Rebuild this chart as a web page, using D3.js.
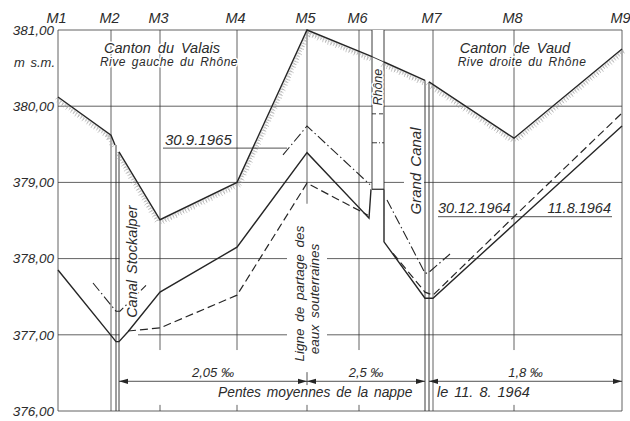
<!DOCTYPE html>
<html>
<head>
<meta charset="utf-8">
<script src="https://cdn.jsdelivr.net/npm/d3@7"></script>
<style>
body { margin: 0; background: #fff; }
svg { display: block; }
text { font-family: "Liberation Sans", Arial, sans-serif; font-style: italic; fill: #2b2b2b; }
.halo { stroke: #fff; stroke-width: 3; paint-order: stroke; stroke-linejoin: round; }
</style>
</head>
<body>
<svg id="chart" width="630" height="421"></svg>
<script>
// stations along the section, chainage in m
const stations = ["M1", "M2", "M3", "M4", "M5", "M6", "M7", "M8", "M9"];
const stationDist = [0, 53, 102, 179, 249, 301, 375, 456, 564];
const levelTicks = [376, 377, 378, 379, 380, 381];

// terrain, null = break (canal / river)
const groundDist  = [0, 53, 57, null, 61, 102, 179, 249, 314, null, 326, 367, null, 371, 456, 564];
const groundLevel = [380.12, 379.62, 379.49, null, 379.40, 378.51, 379.00, 381.00, 380.65, null, 380.58, 380.34, null, 380.32, 379.58, 380.75];

// water table 11.8.1964 (solid)
const aug64Dist  = [0, 55, 58, 61, 70, 102, 179, 249, 311, 313, null, 326, 326, 367, 375, 456, 564];
const aug64Level = [377.85, 376.96, 376.91, 376.91, 377.04, 377.56, 378.15, 379.39, 378.53, 378.91, null, 378.91, 378.22, 377.48, 377.48, 378.45, 379.74];

// water table 30.12.1964 (dashed)
const dec64Dist  = [70, 102, 179, 249, 310, null, 335, 367, 375, 456, 564];
const dec64Level = [377.05, 377.09, 377.52, 378.99, 378.57, null, 378.07, 377.56, 377.52, 378.55, 379.91];

// water table 30.9.1965 (dash-dot)
const sep65Dist  = [35, 58, 62, 88, null, 225, 249, 312, null, 329, 367, 370, 392];
const sep65Level = [377.68, 377.31, 377.31, 377.65, null, 379.36, 379.74, 378.97, null, 378.77, 377.81, 377.81, 378.06];

// canals and river
const stockalperWalls = [58, 61];
const grandCanalWalls = [367, 371];
const rhoneWalls = [314, 326];
const rhoneBed = 378.91;
const rhoneWaterDec64 = 379.90;
const rhoneWaterSep65 = 379.52;

// mean slopes
const slopeFrom = [61, 249, 371];
const slopeTo = [249, 367, 564];
const slopeLabels = ["2,05 ‰", "2,5 ‰", "1,8 ‰"];

const svg = d3.select("#chart");
const x = d3.scaleLinear().domain([0, 564]).range([58, 622]);
const y = d3.scaleLinear().domain([376, 381]).range([411, 30]);
const ink = "#262626";

const pts = (ds, ls) => ds.map((d, i) => [d, ls[i]]);
const line = d3.line().defined(d => d[0] != null).x(d => x(d[0])).y(d => y(d[1]));

// grid
const grid = svg.append("g").attr("stroke", "#3a3a3a").attr("stroke-width", 0.8);
grid.selectAll(".h").data(levelTicks).enter().append("line")
    .attr("x1", x(0)).attr("x2", x(564))
    .attr("y1", d => y(d)).attr("y2", d => y(d));

stationDist.forEach((d, i) => {
    const full = [0, 1, 6, 8].includes(i);
    grid.append("line").attr("x1", x(d)).attr("x2", x(d))
        .attr("y1", y(381)).attr("y2", full ? y(376) : y(376.8));
    if (!full) {
        grid.append("line").attr("x1", x(d)).attr("x2", x(d))
            .attr("y1", y(376.08)).attr("y2", y(376));
    }
});

// blank areas behind vertical labels
const blank = svg.append("g").attr("fill", "#fff");
blank.append("rect").attr("x", x(229)).attr("y", y(378.72))
    .attr("width", x(269) - x(229)).attr("height", y(376.83) - y(378.72));
blank.append("rect").attr("x", x(346)).attr("y", y(379.28))
    .attr("width", x(366) - x(346)).attr("height", y(378.12) - y(379.28));
blank.append("rect").attr("x", x(61.5)).attr("y", y(378.42))
    .attr("width", x(80) - x(61.5)).attr("height", y(376.95) - y(378.42));
blank.append("rect").attr("x", x(rhoneWalls[0])).attr("y", y(381))
    .attr("width", x(rhoneWalls[1]) - x(rhoneWalls[0])).attr("height", y(rhoneBed) - y(381));

// axes labels
const yAxis = d3.axisLeft(y).tickValues(levelTicks).tickSize(0).tickPadding(4)
    .tickFormat(d => d.toFixed(2).replace(".", ","));
const yAxisG = svg.append("g").attr("transform", `translate(${x(0)},0)`).call(yAxis);
yAxisG.select(".domain").remove();
yAxisG.selectAll("text").attr("font-size", 13.5).attr("font-family", null);

const xAxis = d3.axisTop(x).tickValues(stationDist).tickSize(0).tickPadding(7)
    .tickFormat((d, i) => stations[i]);
const xAxisG = svg.append("g").attr("transform", `translate(-2,${y(381)})`).call(xAxis);
xAxisG.select(".domain").remove();
xAxisG.selectAll("text").attr("font-size", 14.5).attr("font-family", null);

// canals
const walls = svg.append("g").attr("stroke", ink).attr("stroke-width", 0.9);
stockalperWalls.forEach((d, i) => {
    walls.append("line").attr("x1", x(d)).attr("x2", x(d))
        .attr("y1", y(i ? 379.40 : 379.49)).attr("y2", y(376));
});
grandCanalWalls.forEach((d, i) => {
    walls.append("line").attr("x1", x(d)).attr("x2", x(d))
        .attr("y1", y(i ? 380.32 : 380.34)).attr("y2", y(376));
});

// Rhône channel
rhoneWalls.forEach(d => {
    walls.append("line").attr("x1", x(d)).attr("x2", x(d))
        .attr("y1", y(381)).attr("y2", y(rhoneBed));
});
walls.append("line").attr("x1", x(rhoneWalls[0])).attr("x2", x(rhoneWalls[1]))
    .attr("y1", y(380.65)).attr("y2", y(380.58));
walls.append("line").attr("x1", x(rhoneWalls[0])).attr("x2", x(rhoneWalls[1]))
    .attr("y1", y(rhoneBed)).attr("y2", y(rhoneBed)).attr("stroke-width", 1.2);
walls.append("line").attr("x1", x(rhoneWalls[0])).attr("x2", x(rhoneWalls[1]))
    .attr("y1", y(rhoneWaterDec64)).attr("y2", y(rhoneWaterDec64)).attr("stroke-dasharray", "4,3");
walls.append("line").attr("x1", x(rhoneWalls[0])).attr("x2", x(rhoneWalls[1]))
    .attr("y1", y(rhoneWaterSep65)).attr("y2", y(rhoneWaterSep65)).attr("stroke-dasharray", "5,2,1,2");

// terrain with grass hatching
const ground = pts(groundDist, groundLevel);
const hatchG = svg.append("g").attr("stroke", "#a2a2a2").attr("stroke-width", 0.6);
const lens = [2.5, 4.2, 3.1, 5, 2.2, 3.6, 4.6];
for (let i = 0; i < ground.length - 1; i++) {
    const p = ground[i], q = ground[i + 1];
    if (p[0] == null || q[0] == null) continue;
    const a = [x(p[0]), y(p[1])], b = [x(q[0]), y(q[1])];
    const dx = b[0] - a[0], dy = b[1] - a[1], L = Math.hypot(dx, dy);
    let nx = -dy / L, ny = dx / L;
    if (ny < 0) { nx = -nx; ny = -ny; }
    const n = Math.floor(L / 1.4);
    for (let k = 0; k <= n; k++) {
        const t = k / n, l = lens[(k + i) % lens.length];
        const px = a[0] + dx * t + nx * 0.8, py = a[1] + dy * t + ny * 0.8;
        hatchG.append("line")
            .attr("x1", px).attr("y1", py)
            .attr("x2", px + nx * l + (dx / L) * (k % 2 ? 0.8 : -0.8))
            .attr("y2", py + ny * l + (dy / L) * (k % 2 ? 0.8 : -0.8));
    }
}
svg.append("path").datum(ground).attr("d", line)
    .attr("fill", "none").attr("stroke", ink).attr("stroke-width", 1.4);

// water tables
const series = [
    { d: pts(aug64Dist, aug64Level), dash: null, w: 1.4 },
    { d: pts(dec64Dist, dec64Level), dash: "8,4", w: 1.2 },
    { d: pts(sep65Dist, sep65Level), dash: "10,3,1.5,3", w: 1.1 }
];
svg.selectAll(".wt").data(series).enter().append("path")
    .attr("d", s => line(s.d))
    .attr("fill", "none").attr("stroke", ink)
    .attr("stroke-width", s => s.w)
    .attr("stroke-dasharray", s => s.dash);

// text labels
const label = (txt, cx, cy, size, anchor, rot) => {
    const t = svg.append("text").attr("class", "halo")
        .attr("font-size", size).attr("text-anchor", anchor || "start").text(txt);
    if (rot) t.attr("transform", `translate(${x(cx)},${y(cy)}) rotate(-90)`).attr("dy", "0.35em");
    else t.attr("x", x(cx)).attr("y", y(cy));
    return t;
};
label("Canton du Valais", 104, 380.70, 14.5, "middle").attr("word-spacing", 3);
label("Rive gauche du Rhône", 111, 380.53, 12, "middle").attr("letter-spacing", 0.5).attr("word-spacing", 2);
label("m s.m.", -3, 380.51, 13, "end").attr("word-spacing", 2);
label("Canton de Vaud", 457, 380.70, 14.5, "middle").attr("word-spacing", 3);
label("Rive droite du Rhône", 464, 380.53, 12, "middle").attr("letter-spacing", 0.5).attr("word-spacing", 2);

label("30.9.1965", 107, 379.49, 15);
svg.append("line").attr("x1", x(105)).attr("x2", x(229))
    .attr("y1", y(379.45)).attr("y2", y(379.45)).attr("stroke", ink).attr("stroke-width", 0.8);

label("30.12.1964", 380, 378.60, 14.5);
label("11.8.1964", 553, 378.60, 14.5, "end");
svg.append("line").attr("x1", x(380)).attr("x2", x(554))
    .attr("y1", y(378.55)).attr("y2", y(378.55)).attr("stroke", ink).attr("stroke-width", 0.8);

label("Rhône", 320, 380.25, 12.5, "middle", true);
label("Grand Canal", 358, 379.15, 15, "middle", true).attr("word-spacing", 2);
label("Canal Stockalper", 74, 377.96, 14.5, "middle", true).attr("word-spacing", 2);
label("Ligne de partage des", 241, 377.54, 13.5, "middle", true).attr("word-spacing", 3);
label("eaux souterraines", 256, 377.47, 13.5, "middle", true).attr("word-spacing", 3);

// mean slope dimension lines
const arrowY = y(376.39);
const dim = svg.append("g").attr("stroke", ink).attr("stroke-width", 0.8);
const heads = svg.append("g").attr("fill", ink);
slopeFrom.forEach((d, i) => {
    const x0 = x(d), x1 = x(slopeTo[i]);
    dim.append("line").attr("x1", x0).attr("x2", x1).attr("y1", arrowY).attr("y2", arrowY);
    heads.append("path").attr("d", `M${x0},${arrowY}l9,-2.6v5.2z`);
    heads.append("path").attr("d", `M${x1},${arrowY}l-9,-2.6v5.2z`);
    label(slopeLabels[i], (d + slopeTo[i]) / 2, 376.45, 13, "middle").attr("class", null);
});
dim.append("line").attr("x1", x(249)).attr("x2", x(249)).attr("y1", y(376.51)).attr("y2", y(376.34));

label("Pentes moyennes de la nappe", 160, 376.18, 13.8).attr("word-spacing", 2).attr("class", null);
label("le 11. 8. 1964", 379, 376.18, 14.5).attr("word-spacing", 2).attr("class", null);
</script>
</body>
</html>
